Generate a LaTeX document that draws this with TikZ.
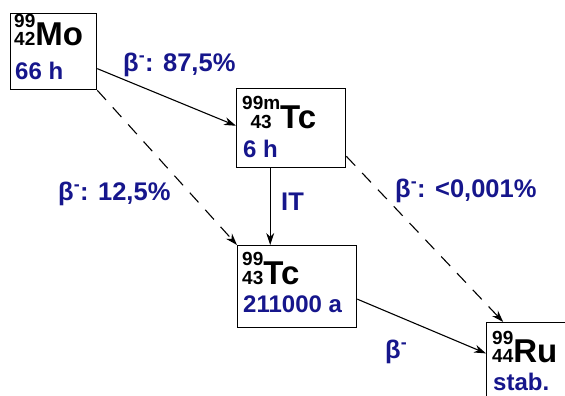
\documentclass[tikz,border=0pt]{standalone}
\usepackage{fontspec}
\setmainfont{Liberation Sans}
\usetikzlibrary{arrows.meta,calc}
\definecolor{navy}{RGB}{22,22,140}
\newcommand\nucl[4]{{\fontsize{19}{16}\selectfont\begin{tabular}[b]{@{}#4@{}}#1\\#2\end{tabular}}{\fontsize{33}{33}\selectfont #3}}
\begin{document}
\begin{tikzpicture}[x=1pt,y=-1pt,
  box/.style={draw,line width=1.3pt,fill=white,anchor=north west,inner sep=0pt},
  nuc/.style={anchor=base west,inner sep=0pt,font=\bfseries},
  half/.style={anchor=base west,inner sep=0pt,font=\bfseries\fontsize{24}{24}\selectfont,text=navy},
  lbl/.style={anchor=base west,inner sep=0pt,font=\bfseries\fontsize{25.5}{25.5}\selectfont,text=navy},
  conn/.style={line width=1.1pt,-{Stealth[length=12pt,width=8pt]}},
  dconn/.style={conn,dash pattern=on 13pt off 10pt}]
\useasboundingbox (0,0) rectangle (565,396);
\node[box,minimum width=86pt,minimum height=76pt] (mo) at (10,13) {};
\node[box,minimum width=109pt,minimum height=79pt] (tcm) at (236,88) {};
\node[box,minimum width=119pt,minimum height=82pt] (tc) at (237,245) {};
\node[box,minimum width=100pt,minimum height=100pt] (ru) at (486,322) {};
\node[nuc] (moN) at (14,46) {\nucl{99}{42}{Mo}{l}};
\node[half] (moH) at (15,80) {66 h};
\node[nuc] (tcmN) at (242,128) {\nucl{99m}{43}{Tc}{c}};
\node[half] (tcmH) at (243,157) {6 h};
\node[nuc] (tcN) at (242,284) {\nucl{99}{43}{Tc}{l}};
\node[half] (tcH) at (243,312) {211000 a};
\node[nuc] (ruN) at (492,362) {\nucl{99}{44}{Ru}{l}};
\node[half] (ruH) at (493,390) {stab.};
\node[lbl] (l1) at (123,71) {β\textsuperscript{-}: 87,5\%};
\node[lbl] (l2) at (58,200) {β\textsuperscript{-}: 12,5\%};
\node[lbl] (l3) at (395,197) {β\textsuperscript{-}: <0,001\%};
\node[lbl] (l4) at (281,210) {IT};
\node[lbl] (l5) at (385,358) {β\textsuperscript{-}};
\draw[conn] ($(mo.north east)!0.72!(mo.south east)$) -- ($(tcm.north west)!0.47!(tcm.south west)$);
\draw[dconn] (mo.south east) -- (tc.north west);
\coordinate (itA) at ($(tcm.south west)!0.31!(tcm.south east)$);
\draw[conn] (itA) -- (itA |- tc.north);
\draw[dconn] ($(tcm.north east)!0.85!(tcm.south east)$) -- ($(ru.north west)!0.17!(ru.north east)$);
\draw[conn] ($(tc.north east)!0.65!(tc.south east)$) -- ($(ru.north west)!0.31!(ru.south west)$);
\end{tikzpicture}
\end{document}
